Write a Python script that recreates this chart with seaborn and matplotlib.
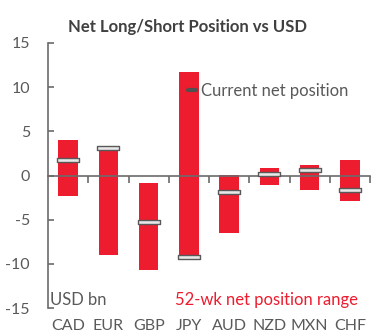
import numpy as np
import pandas as pd
import matplotlib
matplotlib.use("Agg")
import matplotlib.pyplot as plt
from matplotlib.lines import Line2D
from matplotlib.path import Path
import seaborn as sns

currencies = ["CAD", "EUR", "GBP", "JPY", "AUD", "NZD", "MXN", "CHF"]
range_high = [4.0, 2.9, -0.8, 11.7, 0.1, 0.8, 1.2, 1.8]
range_low = [-2.3, -9.0, -10.7, -9.2, -6.5, -1.1, -1.6, -2.9]
current = [1.7, 3.1, -5.3, -9.2, -1.9, 0.2, 0.6, -1.6]
y_ticks = [-15, -10, -5, 0, 5, 10, 15]

RED = "#ED1C2E"
GRAY = "#595959"
AXIS = "#6b6b6b"

sns.set_style("white")
plt.rcParams["font.family"] = ["Lato", "DejaVu Sans"]

df = pd.DataFrame({"currency": currencies, "low": range_low,
                   "high": range_high, "current": current})
df["span"] = df["high"] - df["low"]
df["pos"] = np.arange(len(df))

fig = plt.figure(figsize=(3.87, 3.36), dpi=100)
ax = fig.add_axes([48 / 387, 28 / 336, 322 / 387, 265 / 336])

sns.barplot(data=df, x="currency", y="span", order=currencies,
            bottom=df["low"].to_numpy(), color=RED, saturation=1,
            width=0.48, edgecolor="none", linewidth=0, ax=ax, zorder=2)

rect = Path([(-1, -0.14), (1, -0.14), (1, 0.14), (-1, 0.14), (-1, -0.14)],
            [Path.MOVETO, Path.LINETO, Path.LINETO, Path.LINETO, Path.CLOSEPOLY])
sns.scatterplot(data=df, x="pos", y="current", marker=rect, s=270,
                color="#e8e8e8", edgecolor=GRAY, linewidth=1.0, ax=ax,
                zorder=3, legend=False)

ax.set_xlim(-0.5, len(currencies) - 0.5)
ax.set_ylim(-15, 15)
ax.set_xlabel("")
ax.set_ylabel("")

for s in ["top", "right"]:
    ax.spines[s].set_visible(False)
ax.spines["left"].set_color(AXIS)
ax.spines["left"].set_linewidth(1.2)
ax.spines["bottom"].set_position(("data", 0))
ax.spines["bottom"].set_color(AXIS)
ax.spines["bottom"].set_linewidth(1.2)

ax.set_yticks(y_ticks)
ax.set_yticklabels([str(v) for v in y_ticks])
ax.tick_params(axis="y", direction="in", length=4, width=1.2, color=AXIS,
               labelcolor=GRAY, labelsize=11.5, pad=13, left=True)

ax.set_xticks(np.arange(0.5, len(currencies), 1.0))
ax.set_xticklabels([])
ax.tick_params(axis="x", direction="out", length=5, width=1.2, color=AXIS,
               bottom=True)

sec = ax.secondary_xaxis("bottom")
sec.set_xticks(np.arange(len(currencies)))
sec.set_xticklabels(currencies)
sec.tick_params(length=0, pad=8, labelsize=11.5, labelcolor=GRAY)
sec.spines["bottom"].set_visible(False)

handle = Line2D([], [], color="#505050", lw=3)
ax.legend([handle], ["Current net position"], loc="center left",
          bbox_to_anchor=(0.435, 0.819), frameon=False, borderaxespad=0,
          borderpad=0, handlelength=0.5, handletextpad=0.3,
          labelcolor=GRAY, fontsize=12)

ax.text(0.006, 0.03, "USD bn", transform=ax.transAxes, ha="left",
        va="center", color=GRAY, fontsize=12)
ax.text(0.394, 0.03, "52-wk net position range", transform=ax.transAxes,
        ha="left", va="center", color=RED, fontsize=12)

fig.text(68 / 387, 1 - 27 / 336, "Net Long/Short Position vs USD",
         ha="left", va="center", fontsize=12, fontweight="bold",
         color="#404040")

fig.savefig("out.png", dpi=100)
